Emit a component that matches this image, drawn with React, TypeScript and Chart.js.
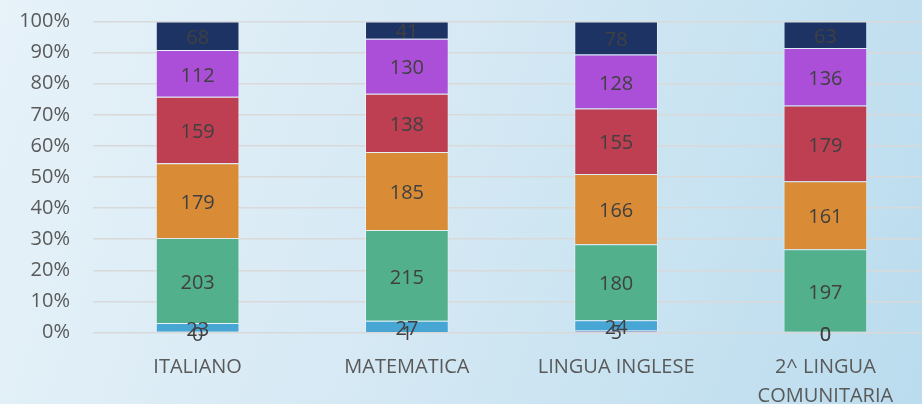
import React, { useEffect, useRef } from "react";
import { Chart, registerables } from "chart.js";

Chart.register(...registerables);

const categories: (string | string[])[] = ["ITALIANO", "MATEMATICA", "LINGUA INGLESE", ["2^ LINGUA", "COMUNITARIA"]];
const series0 = [0, 1, 5, 0];
const series1 = [23, 27, 24, 0];
const series2 = [203, 215, 180, 197];
const series3 = [179, 185, 166, 161];
const series4 = [159, 138, 155, 179];
const series5 = [112, 130, 128, 136];
const series6 = [68, 41, 78, 63];
const seriesColors = ["#8A86CC", "#47A6D3", "#52B08C", "#D98C35", "#BE3F51", "#AC4FD8", "#1D3364"];
const yTicks = [0, 10, 20, 30, 40, 50, 60, 70, 80, 90, 100];

const FONT = "'Open Sans', 'DejaVu Sans', sans-serif";

export default function App() {
  const ref = useRef<HTMLCanvasElement | null>(null);
  useEffect(() => {
    const all = [series0, series1, series2, series3, series4, series5, series6];
    const totals = categories.map((_, i) => all.reduce((s, arr) => s + arr[i], 0));
    const datasets = all.map((arr, k) => ({
      label: "S" + k,
      data: arr.map((v, i) => (v / totals[i]) * 100),
      raw: arr,
      backgroundColor: seriesColors[k],
      borderColor: "rgba(255,255,255,0.35)",
      borderWidth: 1,
      categoryPercentage: 1,
      barPercentage: 0.4,
    }));
    const labelPlugin = {
      id: "vals",
      afterDatasetsDraw(chart: any) {
        const ctx = chart.ctx;
        ctx.save();
        ctx.font = `20px ${FONT}`;
        ctx.fillStyle = "#404040";
        ctx.textAlign = "center";
        ctx.textBaseline = "middle";
        chart.data.datasets.forEach((ds: any, di: number) => {
          const meta = chart.getDatasetMeta(di);
          meta.data.forEach((el: any, i: number) => {
            const y = (el.y + el.base) / 2;
            ctx.fillText(String(ds.raw[i]), el.x, y + 2.5);
          });
        });
        ctx.restore();
      },
    };
    const chart = new Chart(ref.current as HTMLCanvasElement, {
      type: "bar",
      data: { labels: categories as any, datasets: datasets as any },
      options: {
        animation: false,
        responsive: false,
        devicePixelRatio: 1,
        layout: { padding: { top: 21.5, left: 0, right: 0, bottom: 0 } },
        plugins: { legend: { display: false }, tooltip: { enabled: false }, title: { display: false } },
        scales: {
          x: {
            stacked: true,
            grid: { display: false, drawTicks: false },
            border: { display: false },
            ticks: { color: "#595959", font: { family: FONT, size: 20, lineHeight: 1.45 }, padding: 20, maxRotation: 0, autoSkip: false },
            afterFit: (s: any) => { s.height = 71.5; s.paddingLeft = 0; s.paddingRight = 0; s.paddingTop = 0; s.paddingBottom = 0; },
          },
          y: {
            stacked: true,
            min: 0,
            max: 100,
            afterBuildTicks: (s: any) => { s.ticks = yTicks.map((v) => ({ value: v })); },
            grid: { color: "#D9D9D9", lineWidth: 1.5, drawTicks: false },
            border: { display: false },
            ticks: { color: "#595959", font: { family: FONT, size: 20 }, padding: 23, callback: (v: any) => v + "%" },
            afterFit: (s: any) => { s.width = 93; s.paddingTop = 0; s.paddingBottom = 0; s.paddingLeft = 0; s.paddingRight = 0; },
          },
        },
      },
      plugins: [labelPlugin],
    });
    return () => chart.destroy();
  }, []);
  return (
    <div style={{ position: "fixed", left: 0, top: 0, width: 922, height: 404, overflow: "hidden", background: "linear-gradient(110deg, #E7F2F9 0%, #D6E9F4 45%, #BADCEE 100%)" }}>
      <canvas ref={ref} width={930} height={404} style={{ position: "absolute", left: 0, top: 0, width: 930, height: 404 }} />
    </div>
  );
}
